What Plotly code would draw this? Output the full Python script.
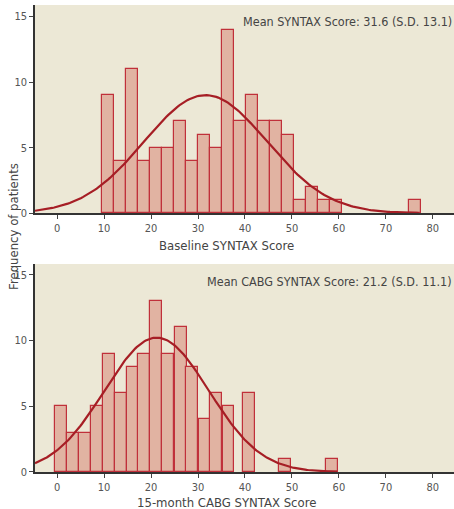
import numpy as np
import plotly.graph_objects as go

# ---- data ----
base_centers = [10.8, 13.4, 15.9, 18.5, 21.0, 23.6, 26.1, 28.7, 31.2, 33.8, 36.3,
                38.9, 41.5, 44.0, 46.6, 49.1, 51.7, 54.2, 56.8, 59.3, 76.2]
base_counts = [9, 4, 11, 4, 5, 5, 7, 4, 6, 5, 14, 7, 9, 7, 7, 6, 1, 2, 1, 1, 1]
base_mean, base_sd, base_bw = 31.6, 13.1, 2.55

cabg_centers = [0.9, 3.4, 5.9, 8.4, 11.0, 13.6, 16.1, 18.6, 21.1, 23.7, 26.3,
                28.8, 31.4, 33.9, 36.5, 40.9, 48.6, 58.5]
cabg_counts = [5, 3, 3, 5, 9, 6, 8, 9, 13, 9, 11, 8, 4, 6, 5, 6, 1, 1]
cabg_mean, cabg_sd, cabg_bw = 21.2, 11.1, 2.54

x_ticks = [0, 10, 20, 30, 40, 50, 60, 70, 80]
y_ticks = [0, 5, 10, 15]

BAR_FILL = "#e1b3a2"
BAR_LINE = "#c0303a"
CURVE = "#a61e25"
BG = "#ece8d6"
FONT = "Liberation Sans Narrow, DejaVu Sans Condensed, Roboto, sans-serif"


def normal_curve(mean, sd, n, bw, x0, x1):
    xs = np.linspace(x0, x1, 200)
    ys = n * bw / (sd * np.sqrt(2 * np.pi)) * np.exp(-0.5 * ((xs - mean) / sd) ** 2)
    return xs, ys


fig = go.Figure()

fig.add_trace(go.Bar(x=base_centers, y=base_counts, width=[base_bw] * len(base_centers),
                     marker=dict(color=BAR_FILL, line=dict(color=BAR_LINE, width=1.2)),
                     xaxis="x", yaxis="y", showlegend=False))
xs, ys = normal_curve(base_mean, base_sd, sum(base_counts), base_bw, -4.7, 77.0)
fig.add_trace(go.Scatter(x=xs, y=ys, mode="lines", line=dict(color=CURVE, width=2.2),
                         xaxis="x", yaxis="y", showlegend=False))

fig.add_trace(go.Bar(x=cabg_centers, y=cabg_counts, width=[cabg_bw] * len(cabg_centers),
                     marker=dict(color=BAR_FILL, line=dict(color=BAR_LINE, width=1.2)),
                     xaxis="x2", yaxis="y2", showlegend=False))
xs2, ys2 = normal_curve(cabg_mean, cabg_sd, sum(cabg_counts), cabg_bw, -4.7, 59.6)
fig.add_trace(go.Scatter(x=xs2, y=ys2, mode="lines", line=dict(color=CURVE, width=2.2),
                         xaxis="x2", yaxis="y2", showlegend=False))

xax = dict(range=[-4.7, 84.5], tickvals=x_ticks, ticks="outside", ticklen=4,
           tickcolor="#444", showline=True, linecolor="#333", linewidth=1.5,
           showgrid=False, zeroline=False,
           tickfont=dict(family=FONT, size=11, color="#555"))
yax = dict(tickvals=y_ticks, ticks="outside", ticklen=4, tickcolor="#444",
           showline=True, linecolor="#333", linewidth=1.5, showgrid=False,
           zeroline=False, tickfont=dict(family=FONT, size=11, color="#555"))

fig.update_layout(
    width=454, height=509,
    margin=dict(l=35, r=0, t=5, b=37),
    paper_bgcolor="white",
    plot_bgcolor=BG,
    bargap=0,
    xaxis=dict(**xax, domain=[0, 1], anchor="y"),
    yaxis=dict(**yax, domain=[0.554, 1], range=[0, 15.88], anchor="x"),
    xaxis2=dict(**xax, domain=[0, 1], anchor="y2"),
    yaxis2=dict(**yax, domain=[0, 0.4454], range=[0, 15.83], anchor="x2"),
    annotations=[
        dict(text="Mean SYNTAX Score: 31.6 (S.D. 13.1)", xref="paper", yref="paper",
             x=1, y=0.9657, xanchor="right", yanchor="middle", showarrow=False,
             font=dict(family=FONT, size=12.5, color="#444")),
        dict(text="Mean CABG SYNTAX Score: 21.2 (S.D. 11.1)", xref="paper", yref="paper",
             x=1, y=0.4075, xanchor="right", yanchor="middle", showarrow=False,
             font=dict(family=FONT, size=12.5, color="#444")),
        dict(text="Baseline SYNTAX Score", xref="paper", yref="paper",
             x=0.456, y=0.486, xanchor="center", yanchor="middle", showarrow=False,
             font=dict(family=FONT, size=13, color="#444")),
        dict(text="15-month CABG SYNTAX Score", xref="paper", yref="paper",
             x=0.456, y=-0.066, xanchor="center", yanchor="middle", showarrow=False,
             font=dict(family=FONT, size=13, color="#444")),
        dict(text="Frequency of patients", xref="paper", yref="paper",
             x=-0.05, y=0.525, xanchor="center", yanchor="middle", textangle=-90,
             showarrow=False, font=dict(family=FONT, size=13, color="#444")),
    ],
)

fig.write_html("out.html")
